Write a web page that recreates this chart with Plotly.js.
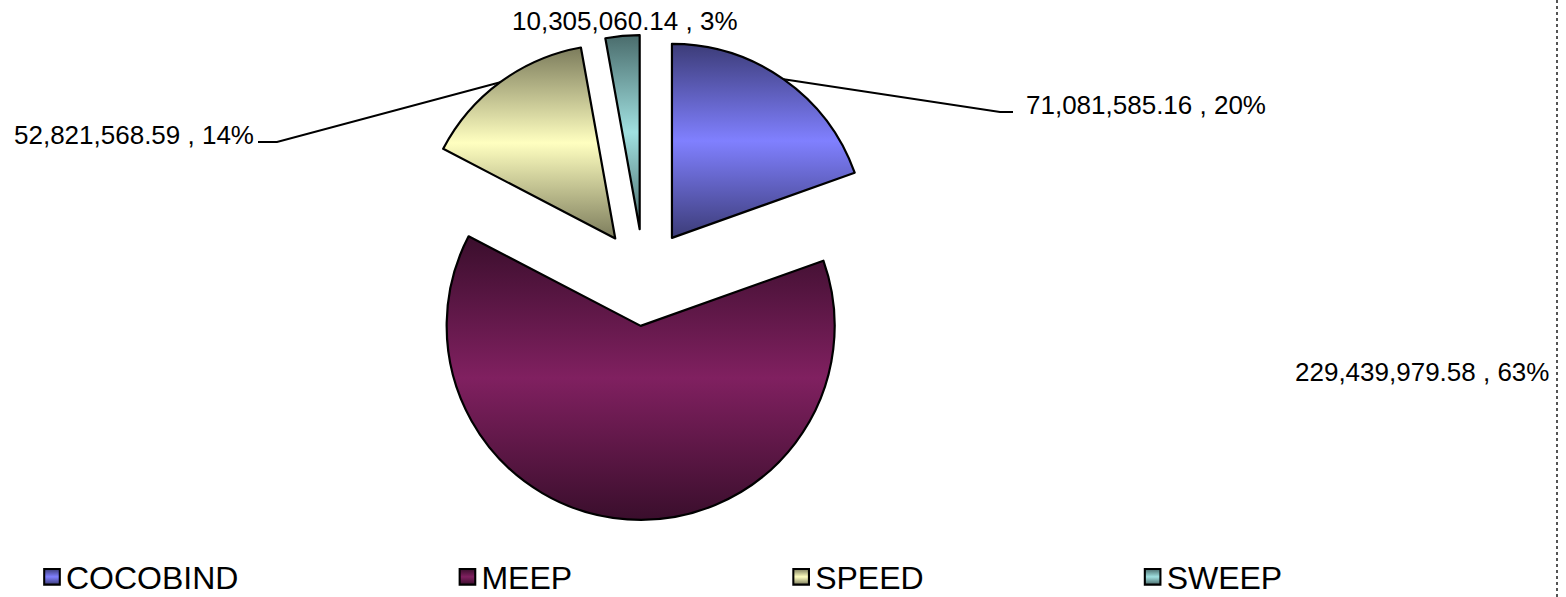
<!DOCTYPE html>
<html>
<head>
<meta charset="utf-8">
<script src="https://cdn.plot.ly/plotly-3.0.1.min.js"></script>
<style>
html,body{margin:0;padding:0;background:#fff;}
#chart{width:1566px;height:597px;}
</style>
</head>
<body>
<div id="chart"></div>
<script>
// ---- data ----
const categories = ['COCOBIND', 'MEEP', 'SPEED', 'SWEEP'];
const values = [71081585.16, 229439979.58, 52821568.59, 10305060.14];
const percentLabels = [20, 63, 14, 3];

// ---- styling / layout ----
const W = 1566, H = 597;
const baseColors = ['#8080ff', '#802060', '#ffffc0', '#a0e0e0'];
const darkColors = ['#3c3c78', '#3a0e2c', '#7c7c5c', '#4a6c6c'];
const FONT = 'Liberation Sans, Arial, sans-serif';
const PULL = 0.25;
const CX = 644, CY = 277.5, R = 194;
const HALF = R * (1 + PULL);
const px = x => x / W;
const py = y => 1 - y / H;

const labelLayout = [
  {x: 1024, y: 105, xanchor: 'left', leader: [[1000, 112], [1013, 112]]},
  {x: 1551, y: 372, xanchor: 'right', leader: null},
  {x: 256, y: 135, xanchor: 'right', leader: [[277, 142], [258, 142]]},
  {x: 625, y: 21, xanchor: 'center', leader: null}
];

const total = values.reduce((a, b) => a + b, 0);
const mids = [];
let cum = 0;
values.forEach(v => { mids.push((cum + v / 2) / total * 2 * Math.PI); cum += v; });

const fmt = v => v.toLocaleString('en-US', {minimumFractionDigits: 2, maximumFractionDigits: 2});

const annotations = categories.map((c, i) => ({
  xref: 'paper', yref: 'paper',
  x: px(labelLayout[i].x), y: py(labelLayout[i].y),
  xanchor: labelLayout[i].xanchor, yanchor: 'middle',
  text: fmt(values[i]) + ' , ' + percentLabels[i] + '%',
  showarrow: false,
  font: {family: FONT, size: 26, color: '#000'}
}));

const shapes = [];
categories.forEach((c, i) => {
  const L = labelLayout[i].leader;
  if (!L) return;
  const tx = CX + HALF * Math.sin(mids[i]);
  const ty = CY - HALF * Math.cos(mids[i]);
  let path = 'M ' + px(tx) + ',' + py(ty);
  L.forEach(p => { path += ' L ' + px(p[0]) + ',' + py(p[1]); });
  shapes.push({type: 'path', xref: 'paper', yref: 'paper', path: path,
    line: {color: '#000', width: 2}, layer: 'below'});
});
// chart-area border (right edge dotted)
shapes.push({type: 'line', xref: 'paper', yref: 'paper',
  x0: px(1557), x1: px(1557), y0: 0, y1: 1,
  line: {color: '#555', width: 2, dash: 'dot'}});

const trace = {
  type: 'pie',
  labels: categories,
  values: values,
  sort: false,
  direction: 'clockwise',
  rotation: 0,
  pull: categories.map(() => PULL),
  textinfo: 'none',
  hoverinfo: 'label+value+percent',
  marker: {colors: baseColors, line: {color: '#000', width: 2.2}},
  domain: {x: [px(CX - HALF - 20), px(CX + HALF + 20)], y: [py(CY + HALF), py(CY - HALF)]}
};

const layout = {
  width: W, height: H,
  margin: {l: 0, r: 0, t: 0, b: 0, autoexpand: false},
  paper_bgcolor: '#fff',
  font: {family: FONT, color: '#000'},
  showlegend: true,
  legend: {
    orientation: 'h', x: px(26), xanchor: 'left', y: py(577), yanchor: 'middle',
    font: {family: FONT, size: 32, color: '#000'},
    bgcolor: 'rgba(0,0,0,0)', traceorder: 'normal',
    entrywidth: 300, entrywidthmode: 'pixels'
  },
  annotations: annotations,
  shapes: shapes
};

const gd = document.getElementById('chart');
Plotly.newPlot(gd, [trace], layout, {displayModeBar: false, staticPlot: true}).then(() => {
  const NS = 'http://www.w3.org/2000/svg';
  const svg = gd.querySelector('svg.main-svg');
  let defs = svg.querySelector('defs');
  if (!defs) { defs = document.createElementNS(NS, 'defs'); svg.insertBefore(defs, svg.firstChild); }
  baseColors.forEach((c, i) => {
    const g = document.createElementNS(NS, 'linearGradient');
    g.setAttribute('id', 'sliceGrad' + i);
    g.setAttribute('x1', '0'); g.setAttribute('y1', '0');
    g.setAttribute('x2', '0'); g.setAttribute('y2', '1');
    [[0, darkColors[i]], [0.5, c], [1, darkColors[i]]].forEach(s => {
      const st = document.createElementNS(NS, 'stop');
      st.setAttribute('offset', s[0]);
      st.setAttribute('stop-color', s[1]);
      g.appendChild(st);
    });
    defs.appendChild(g);
  });
  gd.querySelectorAll('g.slice').forEach((g, k) => {
    const d = g.__data__;
    const i = (d && typeof d.i === 'number') ? d.i : k;
    const p = g.querySelector('path.surface');
    if (p) p.style.fill = 'url(#sliceGrad' + i + ')';
  });
  // legend symbols + spacing (constant gap after each entry's text)
  const items = Array.from(gd.querySelectorAll('.legend .traces'));
  const GAP = 203;
  let xPos = null, yPos = 0;
  items.forEach((g, k) => {
    const p = g.querySelector('.legendpoints path');
    if (p) {
      p.style.fill = 'url(#sliceGrad' + k + ')';
      p.style.strokeWidth = '1.6px';
      p.style.stroke = '#000';
      p.setAttribute('transform', 'translate(26,0) scale(1.3)');
    }
    const m = /translate\(\s*([-\d.]+)[ ,]+([-\d.]+)/.exec(g.getAttribute('transform') || '');
    if (xPos === null) { xPos = m ? +m[1] : 0; yPos = m ? +m[2] : 0; }
    g.setAttribute('transform', 'translate(' + xPos + ',' + yPos + ')');
    const t = g.querySelector('text.legendtext');
    const bb = t.getBBox();
    xPos += bb.x + bb.width + GAP;
  });
});
</script>
</body>
</html>
